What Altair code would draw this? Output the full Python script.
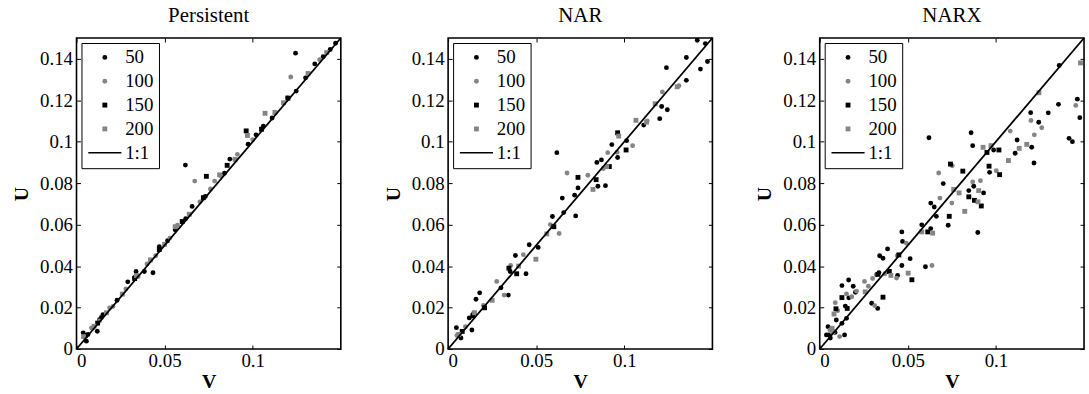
import altair as alt
import pandas as pd

# ---------------- data ----------------
SERIES = ["50", "100", "150", "200", "1:1"]
SERIES_COLORS = ["#000000", "#858585", "#000000", "#858585", "#000000"]
# last shape: thin horizontal bar used as the "1:1" line in the legend
SERIES_SHAPES = ["circle", "circle", "square", "square", "M-6.8,-0.33H6.8V0.33H-6.8Z"]
PANEL_TITLES = ["Persistent", "NAR", "NARX"]
X_TICKS = [0, 0.05, 0.1]
Y_TICKS = [0, 0.02, 0.04, 0.06, 0.08, 0.1, 0.12, 0.14]
AXIS_DOMAIN = [0, 0.15]
LINE_V = [0, 0.15]
LINE_U = [0, 0.15]

# Persistent
P1_50 = [(0.0038, 0.0078), (0.0056, 0.0038), (0.0118, 0.0086), (0.0131, 0.0142), (0.0150, 0.0166),
         (0.0141, 0.0152), (0.0291, 0.0324), (0.0338, 0.0374), (0.0385, 0.0374), (0.0434, 0.0368),
         (0.0470, 0.0493), (0.0517, 0.0522), (0.0620, 0.0629), (0.0656, 0.0688), (0.0731, 0.0736),
         (0.0840, 0.0848), (0.0870, 0.0916), (0.0974, 0.0988), (0.1019, 0.1033), (0.1110, 0.1114),
         (0.1243, 0.1427), (0.1247, 0.1244), (0.1300, 0.1308), (0.1352, 0.1375), (0.1400, 0.1410),
         (0.1440, 0.1445), (0.1470, 0.1475), (0.0618, 0.0887), (0.0065, 0.0070), (0.0090, 0.0100),
         (0.0230, 0.0235), (0.0330, 0.0345), (0.0560, 0.0575), (0.0900, 0.0915), (0.1060, 0.1075)]
P1_100 = [(0.0085, 0.0102), (0.0188, 0.0198), (0.0207, 0.0205), (0.0350, 0.0350), (0.0450, 0.0450),
          (0.0573, 0.0597), (0.0671, 0.0810), (0.0760, 0.0772), (0.0784, 0.0810), (0.0913, 0.0939),
          (0.1196, 0.1212), (0.1216, 0.1312), (0.0050, 0.0060), (0.0130, 0.0135), (0.0280, 0.0290),
          (0.0400, 0.0410), (0.0530, 0.0535), (0.0700, 0.0710), (0.0820, 0.0835), (0.1000, 0.1010),
          (0.1380, 0.1395)]
P1_150 = [(0.0737, 0.0833), (0.0855, 0.0886), (0.0963, 0.1052), (0.0050, 0.0065), (0.0120, 0.0125),
          (0.0330, 0.0340), (0.0470, 0.0480), (0.0600, 0.0615), (0.0720, 0.0730), (0.1050, 0.1060),
          (0.1200, 0.1210)]
P1_200 = [(0.0970, 0.1030), (0.1070, 0.1137), (0.1126, 0.1141), (0.1175, 0.1188), (0.1314, 0.1329),
          (0.0812, 0.0840), (0.0040, 0.0060), (0.0100, 0.0110), (0.0170, 0.0175), (0.0260, 0.0265),
          (0.0340, 0.0355), (0.0420, 0.0430), (0.0500, 0.0505), (0.0560, 0.0590), (0.0640, 0.0650),
          (0.0900, 0.0915), (0.1420, 0.1430)]

# NAR
P2_50 = [(0.0617, 0.0947), (0.1239, 0.1357), (0.1352, 0.1406), (0.1352, 0.1296), (0.1201, 0.1111),
         (0.1244, 0.1154), (0.1212, 0.1170), (0.1432, 0.1350), (0.1472, 0.1387), (0.1414, 0.1489),
         (0.1460, 0.1473), (0.1110, 0.1080), (0.1013, 0.1005), (0.0962, 0.0924), (0.0929, 0.0986),
         (0.0870, 0.0912), (0.0844, 0.0900), (0.0893, 0.0788), (0.0850, 0.0785), (0.0737, 0.0777),
         (0.0718, 0.0742), (0.0648, 0.0728), (0.0724, 0.0642), (0.0592, 0.0639), (0.0656, 0.0658),
         (0.0460, 0.0503), (0.0511, 0.0490), (0.0442, 0.0363), (0.0382, 0.0451), (0.0342, 0.0260),
         (0.0352, 0.0374), (0.0179, 0.0271), (0.0158, 0.0240), (0.0145, 0.0172), (0.0135, 0.0092),
         (0.0073, 0.0053), (0.0047, 0.0103), (0.0300, 0.0295), (0.0120, 0.0150), (0.0060, 0.0070)]
P2_100 = [(0.1216, 0.1240), (0.1310, 0.1270), (0.1047, 0.0981), (0.0959, 0.0949), (0.0906, 0.0947),
          (0.0793, 0.0838), (0.0675, 0.0849), (0.0630, 0.0557), (0.0427, 0.0455), (0.0318, 0.0260),
          (0.0276, 0.0326), (0.0355, 0.0403), (0.0098, 0.0108), (0.0200, 0.0210), (0.0580, 0.0600),
          (0.0880, 0.0870), (0.1130, 0.1100), (0.0050, 0.0065)]
P2_150 = [(0.0962, 0.1043), (0.1010, 0.0960), (0.0915, 0.0880), (0.0840, 0.0817), (0.0737, 0.0828),
          (0.0389, 0.0363), (0.0207, 0.0199), (0.0140, 0.0160), (0.0345, 0.0390), (0.0600, 0.0590),
          (0.0080, 0.0085)]
P2_200 = [(0.1175, 0.1183), (0.1066, 0.1103), (0.1126, 0.1094), (0.0968, 0.1027), (0.0822, 0.0770),
          (0.0498, 0.0433), (0.0400, 0.0400), (0.0250, 0.0235), (0.0150, 0.0175), (0.0060, 0.0070),
          (0.0560, 0.0555), (0.0900, 0.0880), (0.1300, 0.1265)]

# NARX
P3_50 = [(0.0620, 0.1019), (0.0859, 0.1043), (0.0868, 0.0981), (0.1359, 0.1368), (0.1355, 0.1180),
         (0.1297, 0.1139), (0.1243, 0.1094), (0.1197, 0.1140), (0.1203, 0.0973), (0.1216, 0.0897),
         (0.1415, 0.1016), (0.1434, 0.1000), (0.1462, 0.1205), (0.1476, 0.1116), (0.1120, 0.1008),
         (0.1109, 0.0944), (0.0987, 0.0960), (0.0964, 0.0852), (0.0930, 0.0753), (0.0846, 0.0764),
         (0.0874, 0.0785), (0.0897, 0.0562), (0.0701, 0.0798), (0.0630, 0.0704), (0.0650, 0.0685),
         (0.0662, 0.0640), (0.0729, 0.0597), (0.0630, 0.0581), (0.0579, 0.0599), (0.0600, 0.0397),
         (0.0466, 0.0565), (0.0513, 0.0436), (0.0470, 0.0519), (0.0466, 0.0403), (0.0442, 0.0355),
         (0.0385, 0.0483), (0.0340, 0.0450), (0.0359, 0.0438), (0.0336, 0.0368), (0.0329, 0.0196),
         (0.0295, 0.0221), (0.0126, 0.0306), (0.0164, 0.0333), (0.0190, 0.0303), (0.0203, 0.0274),
         (0.0165, 0.0247), (0.0145, 0.0207), (0.0126, 0.0124), (0.0152, 0.0148), (0.0141, 0.0068),
         (0.0094, 0.0140), (0.0047, 0.0108), (0.0051, 0.0068), (0.0087, 0.0080), (0.0038, 0.0068),
         (0.0060, 0.0053)]
P3_100 = [(0.1260, 0.1067), (0.1199, 0.1102), (0.1218, 0.1033), (0.1453, 0.1175), (0.1081, 0.1051),
          (0.1002, 0.0860), (0.0912, 0.0812), (0.0868, 0.0806), (0.0752, 0.0884), (0.0675, 0.0849),
          (0.0682, 0.0728), (0.0750, 0.0704), (0.0637, 0.0403), (0.0491, 0.0511), (0.0436, 0.0342),
          (0.0370, 0.0363), (0.0321, 0.0358), (0.0312, 0.0209), (0.0276, 0.0303), (0.0254, 0.0326),
          (0.0209, 0.0279), (0.0182, 0.0252), (0.0152, 0.0266), (0.0088, 0.0223), (0.0102, 0.0185),
          (0.0058, 0.0092), (0.0113, 0.0060), (0.0440, 0.0450), (0.0300, 0.0340)]
P3_150 = [(0.1017, 0.0960), (0.1021, 0.0841), (0.0961, 0.0882), (0.0949, 0.0948), (0.0917, 0.0690),
          (0.0846, 0.0734), (0.0878, 0.0717), (0.0812, 0.0858), (0.0742, 0.0892), (0.0735, 0.0640),
          (0.0613, 0.0565), (0.0449, 0.0454), (0.0523, 0.0334), (0.0395, 0.0374), (0.0359, 0.0250),
          (0.0126, 0.0248), (0.0156, 0.0196), (0.0092, 0.0194), (0.0330, 0.0360)]
P3_200 = [(0.1244, 0.1236), (0.1071, 0.0909), (0.1132, 0.0968), (0.1175, 0.0987), (0.0972, 0.0981),
          (0.0927, 0.0973), (0.0902, 0.0764), (0.0898, 0.0710), (0.0823, 0.0664), (0.0791, 0.0753),
          (0.0641, 0.0559), (0.0579, 0.0565), (0.0502, 0.0366), (0.0404, 0.0355), (0.0258, 0.0276),
          (0.0081, 0.0169), (0.0075, 0.0084), (0.0070, 0.0100), (0.1480, 0.1380), (0.0760, 0.0770)]

PANEL_DATA = [
    {"50": P1_50, "100": P1_100, "150": P1_150, "200": P1_200},
    {"50": P2_50, "100": P2_100, "150": P2_150, "200": P2_200},
    {"50": P3_50, "100": P3_100, "150": P3_150, "200": P3_200},
]

FONT = "Times New Roman, Liberation Serif, serif"
W, H = 266, 313
TICK = 4
LABEL_EXPR = "format(datum.value, '~g')"
PT_SIZE = 24


def make_panel(title, series_pts):
    rows = []
    for s, pts in series_pts.items():
        for v, u in pts:
            rows.append({"V": v, "U": u, "series": s})
    df = pd.DataFrame(rows)
    line_df = pd.DataFrame({"V": LINE_V, "U": LINE_U})

    xscale = alt.Scale(domain=AXIS_DOMAIN, nice=False, zero=False)
    yscale = alt.Scale(domain=AXIS_DOMAIN, nice=False, zero=False)

    legend = alt.Legend(
        title=None, orient="top-left", offset=5, padding=5,
        strokeColor="black", fillColor="white",
        labelFont=FONT, labelFontSize=19, labelColor="black",
        symbolSize=PT_SIZE, symbolOffset=9, labelOffset=11, rowPadding=4,
        symbolStrokeWidth=0,
    )

    points = alt.Chart(df).mark_point(filled=True, size=PT_SIZE, opacity=1).encode(
        x=alt.X("V:Q", scale=xscale, axis=alt.Axis(
            orient="bottom", values=X_TICKS, labelExpr=LABEL_EXPR, title="V",
            offset=-TICK, tickSize=TICK, labelPadding=3, titlePadding=1)),
        y=alt.Y("U:Q", scale=yscale, axis=alt.Axis(
            orient="left", values=Y_TICKS, labelExpr=LABEL_EXPR, title="U",
            offset=-TICK, tickSize=TICK, labelPadding=4, titlePadding=8)),
        color=alt.Color("series:N", scale=alt.Scale(domain=SERIES, range=SERIES_COLORS), legend=legend),
        shape=alt.Shape("series:N", scale=alt.Scale(domain=SERIES, range=SERIES_SHAPES), legend=legend),
    )

    line = alt.Chart(line_df).mark_line(color="black", strokeWidth=1.8).encode(
        x=alt.X("V:Q", scale=xscale, axis=alt.Axis(
            orient="top", values=X_TICKS, labels=False, title=None,
            offset=-TICK, tickSize=TICK)),
        y=alt.Y("U:Q", scale=yscale, axis=alt.Axis(
            orient="right", values=Y_TICKS, labels=False, title=None,
            offset=-TICK, tickSize=TICK)),
    )

    return alt.layer(points, line).properties(
        width=W, height=H,
        title=alt.TitleParams(title, font=FONT, fontSize=21, fontWeight="normal",
                              color="black", anchor="middle", offset=9),
    )


panels = [make_panel(t, d) for t, d in zip(PANEL_TITLES, PANEL_DATA)]

chart = alt.hconcat(*panels, spacing=108, bounds="flush").resolve_legend(
    color="independent", shape="independent"
).properties(
    padding={"left": 10, "top": 2, "right": 0, "bottom": 0}
).configure_view(
    stroke="black", strokeWidth=1.6
).configure_axis(
    grid=False, domain=False, tickColor="black", tickWidth=1,
    labelFont=FONT, labelFontSize=19, labelColor="black",
    titleFont=FONT, titleFontSize=20, titleFontWeight="bold", titleColor="black",
)

chart.save("out.html", embed_options={"renderer": "svg", "actions": False})
